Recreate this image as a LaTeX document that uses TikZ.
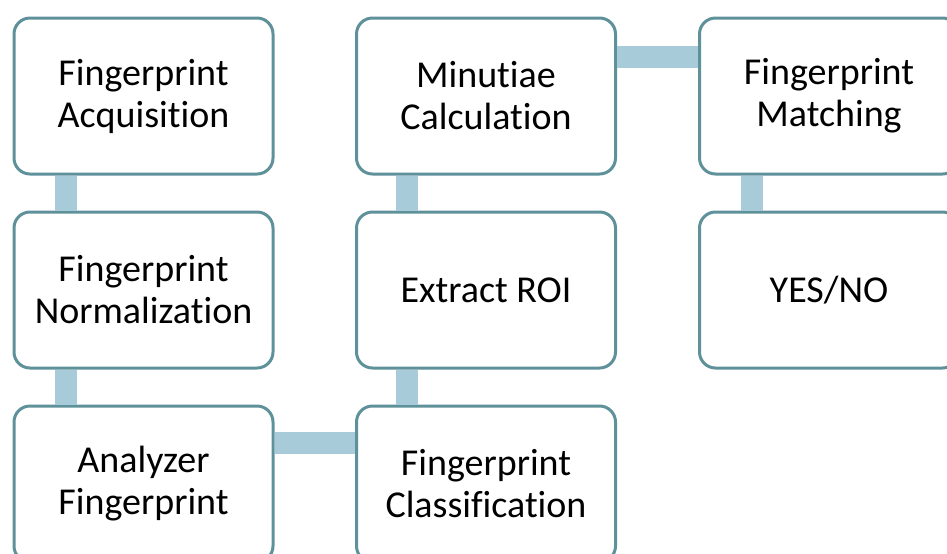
\documentclass[tikz,border=0pt]{standalone}
\usepackage{fontspec}
\setmainfont{Carlito}[Ligatures={NoCommon,NoContextual}]
\definecolor{boxline}{HTML}{5E9199}
\definecolor{linkblue}{HTML}{A8CBDA}

\begin{document}
\begin{tikzpicture}[x=0.5pt,y=-0.5pt,
    stage/.style={draw=boxline, line width=1.5pt, fill=white, rounded corners=8pt,
      minimum width=129.5pt, minimum height=78pt, align=center,
      font=\fontsize{19}{21}\selectfont},
    link/.style={draw=linkblue, line width=11pt}]
  \useasboundingbox (0,0) rectangle (947,553);
  \clip (0,0) rectangle (947,553);
  % first column
  \node[stage] (acq)  at (143.5,96)  {Fingerprint\\Acquisition};
  \node[stage] (norm) at (143.5,290) {Fingerprint\\Normalization};
  \node[stage] (ana)  at (143.5,484) {Analyzer\\Fingerprint};
  % second column
  \node[stage] (min)  at (486,96)  {Minutiae\\Calculation};
  \node[stage] (roi)  at (486,290) {Extract ROI};
  \node[stage] (cls)  at (486,484) {Fingerprint\\Classification};
  % third column
  \node[stage] (mat)  at (829,96)  {Fingerprint\\Matching};
  \node[stage] (res)  at (829,290) {YES/NO};
  % links
  \draw[link] ([xshift=26.5pt]acq.south west) -- ([xshift=26.5pt]norm.north west);
  \draw[link] ([xshift=26.5pt]norm.south west) -- ([xshift=26.5pt]ana.north west);
  \draw[link] ([yshift=-19pt]ana.north east) -- ([yshift=-19pt]cls.north west);
  \draw[link] ([xshift=26pt]cls.north west) -- ([xshift=26pt]roi.south west);
  \draw[link] ([xshift=26pt]roi.north west) -- ([xshift=26pt]min.south west);
  \draw[link] ([yshift=-20pt]min.north east) -- ([yshift=-20pt]mat.north west);
  \draw[link] ([xshift=27pt]mat.south west) -- ([xshift=27pt]res.north west);
\end{tikzpicture}
\end{document}
